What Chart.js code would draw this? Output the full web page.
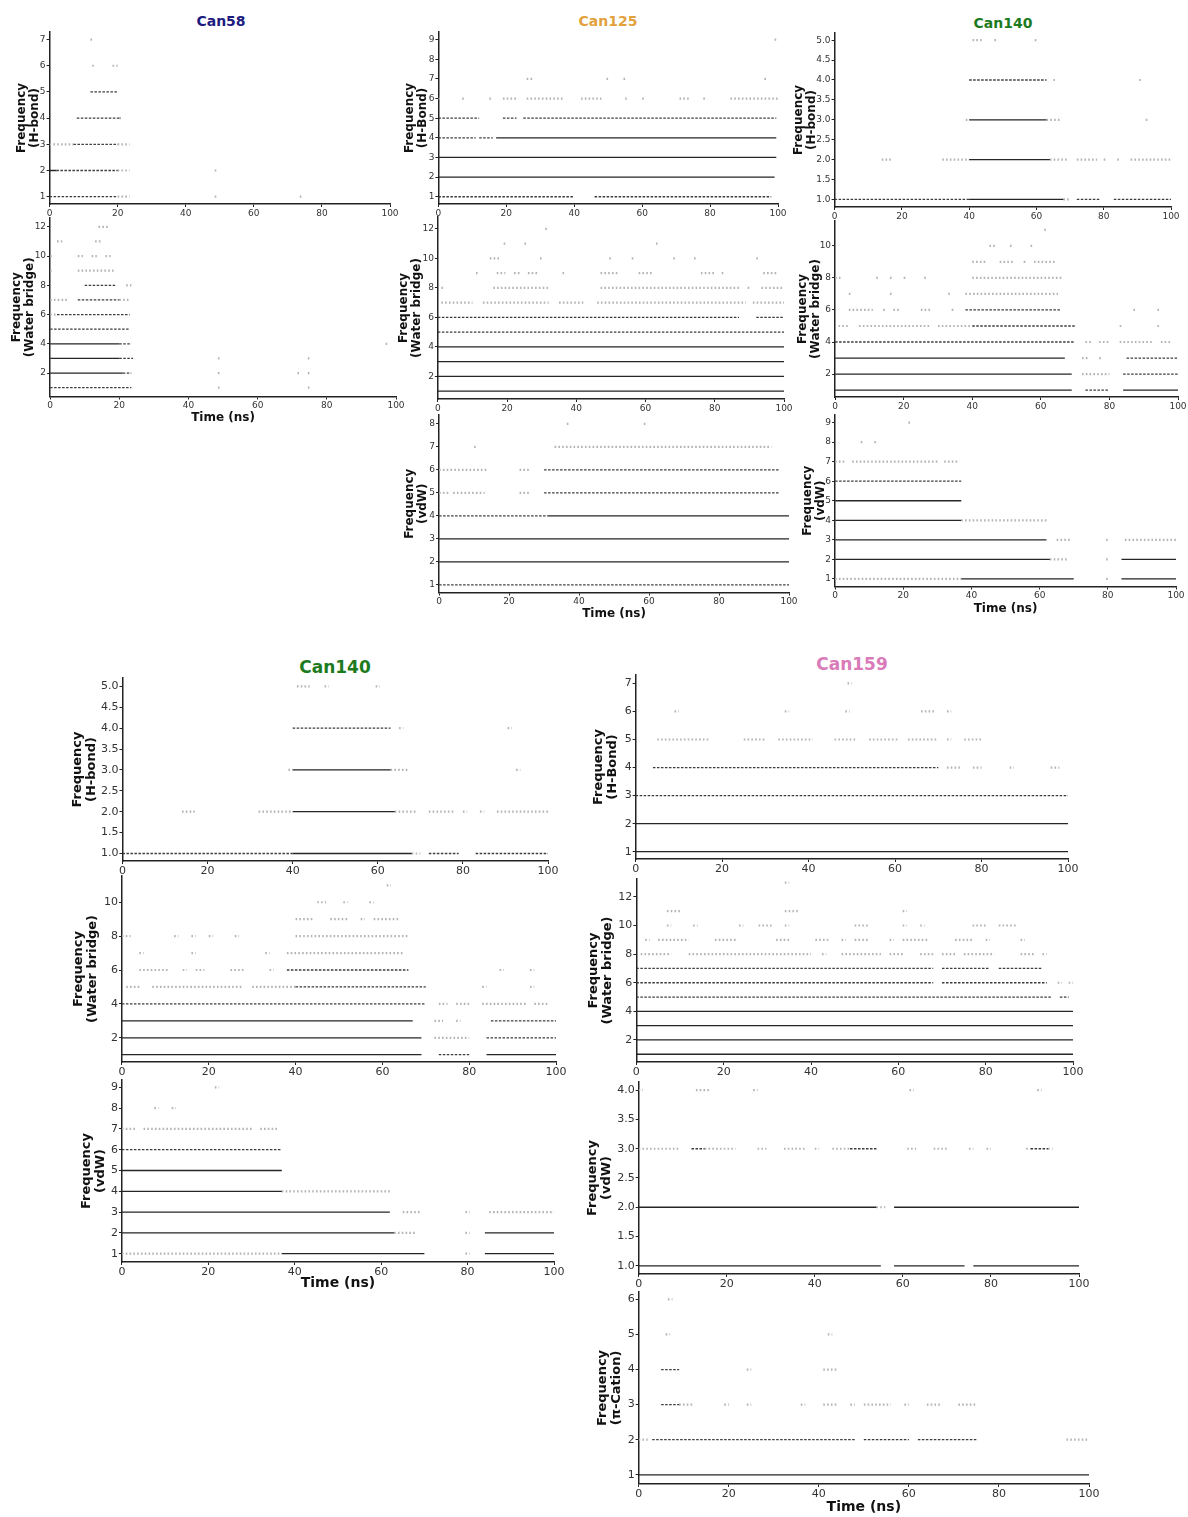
<!DOCTYPE html>
<html>
<head>
<meta charset="utf-8">
<script src="https://cdn.jsdelivr.net/npm/chart.js@4.4.1/dist/chart.umd.min.js"></script>
<style>
body { margin: 0; background: #fff; width: 1188px; height: 1517px; position: relative; overflow: hidden; font-family: 'DejaVu Sans', sans-serif; }
canvas { position: absolute; }
.ttl { position: absolute; font-weight: bold; transform: translateX(-50%); white-space: nowrap; line-height: 1; }
</style>
</head>
<body>
<div class="ttl" style="left:221px;top:14px;font-size:14px;color:#1c1c80">Can58</div>
<div class="ttl" style="left:608px;top:14px;font-size:14px;color:#e3a13c">Can125</div>
<div class="ttl" style="left:1003px;top:16px;font-size:14px;color:#1d7a1d">Can140</div>
<div class="ttl" style="left:335px;top:659px;font-size:17px;color:#1d7a1d">Can140</div>
<div class="ttl" style="left:852px;top:656px;font-size:17px;color:#d97bb8">Can159</div>
<script>
// tick labels
const timeTicks = [0, 20, 40, 60, 80, 100];
const ticks6 = [1, 2, 3, 4, 5, 6];
const ticks7 = [1, 2, 3, 4, 5, 6, 7];
const ticks8 = [1, 2, 3, 4, 5, 6, 7, 8];
const ticks9 = [1, 2, 3, 4, 5, 6, 7, 8, 9];
const ticksEven10 = [2, 4, 6, 8, 10];
const ticksEven12 = [2, 4, 6, 8, 10, 12];
const ticksHalf4 = [1, 1.5, 2, 2.5, 3, 3.5, 4];
const ticksHalf5 = [1, 1.5, 2, 2.5, 3, 3.5, 4, 4.5, 5];

// contacts: [frequency level, from ns, to ns], grouped by how dense the dots are
// Can58
const can58HbSolid = [[2, 0, 2]];
const can58HbDense = [[1, 0, 20], [2, 2, 20], [3, 7, 20], [4, 8, 20.5], [5, 12, 20]];
const can58HbSparse = [[1, 20, 23.5], [1, 48.5, 49.5], [1, 73.5, 74.5], [2, 20, 23.5], [2, 48.5, 49.5], [3, 0, 7], [3, 20, 23.5],
  [4, 20.5, 21.5], [6, 12.5, 13.5], [6, 18.5, 20], [7, 12, 13]];
const can58WbSolid = [[2, 0, 21], [3, 0, 20], [4, 0, 20]];
const can58WbDense = [[1, 0, 23.5], [2, 21, 23.5], [3, 20, 24], [4, 20, 23.5], [5, 0, 23], [6, 2, 23], [7, 8, 20], [8, 10, 19]];
const can58WbSparse = [[1, 48.5, 49.5], [1, 74.5, 75.5], [2, 48.5, 49.5], [2, 71.5, 72.5], [2, 74.5, 75.5], [3, 48.5, 49.5], [3, 74.5, 75.5],
  [4, 97, 98], [6, 0, 2], [7, 0, 5], [7, 20, 23], [8, 22, 23.5], [9, 0, 1], [9, 8, 19], [10, 0, 1], [10, 8, 9.5], [10, 12, 13.5],
  [10, 16, 17.5], [11, 2, 3.5], [11, 13, 15], [12, 14, 17]];

// Can125
const can125HbSolid = [[2, 0, 99], [3, 0, 99.5], [4, 17, 99.5]];
const can125HbDense = [[1, 0, 40], [1, 46, 98], [4, 0, 11], [4, 12, 16], [5, 0, 12], [5, 19, 23], [5, 25, 99.5]];
const can125HbSparse = [[6, 0, 1], [6, 7, 8], [6, 15, 16], [6, 19, 23], [6, 26, 37], [6, 42, 48], [6, 55, 56], [6, 60, 61], [6, 71, 74],
  [6, 78, 79], [6, 86, 100], [7, 26, 28], [7, 49.5, 50.5], [7, 54.5, 55.5], [7, 96, 97], [9, 99, 100]];
const can125WbSolid = [[1, 0, 100], [2, 0, 100], [3, 0, 100], [4, 0, 100]];
const can125WbDense = [[5, 0, 100], [6, 0, 87], [6, 92, 100]];
const can125WbSparse = [[7, 1, 10], [7, 13, 32], [7, 35, 42], [7, 46, 89], [7, 91, 100], [8, 1, 2], [8, 16, 32], [8, 47, 87],
  [8, 89.5, 90.5], [8, 93.5, 100], [9, 11, 12], [9, 17, 19.5], [9, 22, 24], [9, 26, 29], [9, 36, 37], [9, 47, 52], [9, 58, 62],
  [9, 76, 80], [9, 82, 83], [9, 94, 98], [10, 15, 18], [10, 29.5, 30.5], [10, 49.5, 50.5], [10, 56, 57], [10, 68, 69], [10, 74, 75],
  [10, 92, 93], [11, 19, 20], [11, 25, 26], [11, 63, 64], [12, 31, 32]];
const can125VdwSolid = [[2, 0, 100], [3, 0, 100], [4, 31, 100]];
const can125VdwDense = [[1, 0, 100], [4, 0, 31], [5, 30, 97], [6, 30, 97]];
const can125VdwSparse = [[5, 0, 3], [5, 4, 13], [5, 23, 26], [6, 0, 14], [6, 23, 26], [7, 10, 11], [7, 33, 95], [8, 36.5, 37.5], [8, 58.5, 59.5]];

// Can140
const can140HbSolid = [[1, 40, 68], [2, 40, 64], [3, 40, 63]];
const can140HbDense = [[1, 0, 40], [1, 72, 79], [1, 83, 100], [4, 40, 63]];
const can140HbSparse = [[1, 68, 70], [2, 14, 17], [2, 32, 40], [2, 64, 69], [2, 72, 78], [2, 80, 81], [2, 84, 85], [2, 88, 100],
  [3, 39, 40], [3, 63, 67], [3, 92.5, 93.5], [4, 65, 66], [4, 90.5, 91.5], [5, 41, 44], [5, 47.5, 48.5], [5, 59.5, 60.5]];
const can140WbSolid = [[1, 0, 69], [1, 84, 100], [2, 0, 69], [3, 0, 67]];
const can140WbDense = [[1, 73, 80], [2, 84, 100], [3, 85, 100], [4, 0, 70], [5, 40, 70], [6, 38, 66]];
const can140WbSparse = [[2, 72, 80], [3, 72, 74], [3, 77, 78], [4, 73, 75], [4, 77, 80], [4, 83, 93], [4, 95, 98], [5, 1, 4],
  [5, 7, 28], [5, 30, 40], [5, 83, 84], [5, 94, 95], [6, 4, 11], [6, 14, 15], [6, 17, 19], [6, 25, 28], [6, 34, 35], [6, 87, 88],
  [6, 94, 95], [7, 4, 5], [7, 16, 17], [7, 33, 34], [7, 38, 65], [8, 0, 2], [8, 12, 13], [8, 16, 17], [8, 20, 21], [8, 26, 27],
  [8, 40, 66], [9, 40, 44], [9, 48, 52], [9, 55, 56], [9, 58, 64], [10, 45, 47], [10, 51, 52], [10, 57, 58], [11, 61, 62]];
const can140VdwSolid = [[1, 37, 70], [1, 84, 100], [2, 0, 63], [2, 84, 100], [3, 0, 62], [4, 0, 37], [5, 0, 37]];
const can140VdwDense = [[6, 0, 37]];
const can140VdwSparse = [[1, 0, 37], [1, 79.5, 80.5], [2, 63, 68], [2, 79.5, 80.5], [3, 65, 69], [3, 79.5, 80.5], [3, 85, 100],
  [4, 37, 62], [7, 0, 3], [7, 5, 30], [7, 32, 36], [8, 7.5, 8.5], [8, 11.5, 12.5], [9, 21.5, 22.5]];

// Can159
const can159HbSolid = [[1, 0, 100], [2, 0, 100]];
const can159HbDense = [[3, 0, 100], [4, 4, 70]];
const can159HbSparse = [[4, 72, 75], [4, 78, 80], [4, 86.5, 87.5], [4, 96, 98], [5, 5, 17], [5, 25, 30], [5, 33, 41], [5, 46, 51],
  [5, 54, 61], [5, 63, 70], [5, 72, 73], [5, 76, 80], [6, 9, 10], [6, 34.5, 35.5], [6, 48.5, 49.5], [6, 66, 69], [6, 72, 73], [7, 49, 50]];
const can159WbSolid = [[1, 0, 100], [2, 0, 100], [3, 0, 100], [4, 0, 100]];
const can159WbDense = [[5, 0, 95], [5, 97, 99], [6, 0, 68], [6, 70, 94], [7, 0, 68], [7, 70, 81], [7, 83, 93]];
const can159WbSparse = [[6, 96.5, 97.5], [6, 99, 100], [8, 1, 8], [8, 12, 40], [8, 42.5, 43.5], [8, 47, 56], [8, 58, 61], [8, 65, 68],
  [8, 70, 73], [8, 75, 82], [8, 88, 91], [8, 93, 94], [9, 2, 3], [9, 5, 12], [9, 18, 23], [9, 32, 35], [9, 41, 44], [9, 47, 48],
  [9, 50, 53], [9, 58, 59], [9, 61, 67], [9, 73, 77], [9, 80, 81], [9, 88, 89], [10, 7, 8], [10, 13, 14], [10, 23.5, 24.5],
  [10, 28, 31], [10, 34, 35], [10, 50, 53], [10, 61, 62], [10, 65, 66], [10, 77, 80], [10, 83, 87], [11, 7, 10], [11, 34, 37],
  [11, 61, 62], [13, 34, 35]];
const can159VdwSolid = [[1, 0, 55], [1, 58, 74], [1, 76, 100], [2, 0, 54], [2, 58, 100]];
const can159VdwDense = [[3, 12, 15], [3, 48, 54], [3, 89, 93]];
const can159VdwSparse = [[2, 54, 56], [3, 0, 9], [3, 15, 22], [3, 27, 29], [3, 33, 38], [3, 40, 41], [3, 44, 48], [3, 61, 63],
  [3, 67, 70], [3, 75, 76], [3, 79, 80], [3, 88, 89], [3, 93, 94], [4, 0, 1], [4, 13, 16], [4, 26, 27], [4, 61.5, 62.5], [4, 90.5, 91.5]];
const can159PiSolid = [[1, 0, 100]];
const can159PiDense = [[2, 3, 48], [2, 50, 60], [2, 62, 75], [3, 5, 9], [4, 5, 9]];
const can159PiSparse = [[2, 0, 2], [2, 95, 100], [3, 9, 12], [3, 19, 20], [3, 24, 25], [3, 36, 37], [3, 41, 44], [3, 47, 48],
  [3, 50, 56], [3, 59, 60], [3, 64, 67], [3, 71, 75], [4, 24, 25], [4, 41, 44], [5, 6, 7], [5, 42, 43], [6, 6.5, 7.5]];

// line look for each density group
const looks = [
  { color: '#262626', width: 1.3, dash: [] },
  { color: '#3c3c3c', width: 1.3, dash: [2.5, 1.5] },
  { color: '#b4b4b4', width: 2.2, dash: [1.6, 2.2] }
];

// panel placement (pixels) - x0/x1 = time 0/100, yTop/yBot = axis top and x axis
const panels = [
  { x0: 50, x1: 390.7, yTop: 31.7, yBot: 204, min: 0.72, max: 7.29, ticks: ticks7, dec: 0, label: '(H-bond)', tx: 22, small: true,
    sets: [can58HbSolid, can58HbDense, can58HbSparse] },
  { x0: 50, x1: 396, yTop: 218, yBot: 396.7, min: 0.4, max: 12.6, ticks: ticksEven12, dec: 0, label: '(Water bridge)', tx: 16.5, small: true, timeY: 418,
    sets: [can58WbSolid, can58WbDense, can58WbSparse] },
  { x0: 438.3, x1: 778.3, yTop: 31.7, yBot: 204, min: 0.63, max: 9.39, ticks: ticks9, dec: 0, label: '(H-Bond)', tx: 409.5, small: true,
    sets: [can125HbSolid, can125HbDense, can125HbSparse] },
  { x0: 438.3, x1: 784, yTop: 216.7, yBot: 398.3, min: 0.47, max: 12.8, ticks: ticksEven12, dec: 0, label: '(Water bridge)', tx: 404, small: true,
    sets: [can125WbSolid, can125WbDense, can125WbSparse] },
  { x0: 439, x1: 789.3, yTop: 415, yBot: 592.7, min: 0.67, max: 8.39, ticks: ticks8, dec: 0, label: '(vdW)', tx: 409.5, small: true, timeY: 614,
    sets: [can125VdwSolid, can125VdwDense, can125VdwSparse] },
  { x0: 835, x1: 1171.7, yTop: 33.3, yBot: 207.7, min: 0.81, max: 5.18, ticks: ticksHalf5, dec: 1, label: '(H-bond)', tx: 799, small: true,
    sets: [can140HbSolid, can140HbDense, can140HbSparse] },
  { x0: 835, x1: 1177.7, yTop: 221, yBot: 397.3, min: 0.57, max: 11.55, ticks: ticksEven10, dec: 0, label: '(Water bridge)', tx: 802.5, small: true,
    sets: [can140WbSolid, can140WbDense, can140WbSparse] },
  { x0: 835, x1: 1175.7, yTop: 415, yBot: 586.7, min: 0.61, max: 9.39, ticks: ticks9, dec: 0, label: '(vdW)', tx: 807.5, small: true, timeY: 609,
    sets: [can140VdwSolid, can140VdwDense, can140VdwSparse] },
  { x0: 122.3, x1: 548.3, yTop: 678.3, yBot: 861.7, min: 0.82, max: 5.2, ticks: ticksHalf5, dec: 1, label: '(H-bond)', tx: 77, small: false,
    sets: [can140HbSolid, can140HbDense, can140HbSparse] },
  { x0: 122.3, x1: 556.7, yTop: 876, yBot: 1061.9, min: 0.57, max: 11.55, ticks: ticksEven10, dec: 0, label: '(Water bridge)', tx: 78.5, small: false,
    sets: [can140WbSolid, can140WbDense, can140WbSparse] },
  { x0: 122.3, x1: 554.3, yTop: 1080, yBot: 1261.7, min: 0.6, max: 9.35, ticks: ticks9, dec: 0, label: '(vdW)', tx: 86.5, small: false, timeY: 1283.3,
    sets: [can140VdwSolid, can140VdwDense, can140VdwSparse] },
  { x0: 636, x1: 1068.7, yTop: 675, yBot: 859.3, min: 0.74, max: 7.3, ticks: ticks7, dec: 0, label: '(H-Bond)', tx: 598.5, small: false,
    sets: [can159HbSolid, can159HbDense, can159HbSparse] },
  { x0: 636.7, x1: 1073.3, yTop: 879, yBot: 1062, min: 0.46, max: 13.25, ticks: ticksEven12, dec: 0, label: '(Water bridge)', tx: 593.5, small: false,
    sets: [can159WbSolid, can159WbDense, can159WbSparse] },
  { x0: 639, x1: 1079, yTop: 1081.7, yBot: 1273.3, min: 0.86, max: 4.14, ticks: ticksHalf4, dec: 1, label: '(vdW)', tx: 592.5, small: false,
    sets: [can159VdwSolid, can159VdwDense, can159VdwSparse] },
  { x0: 639, x1: 1089, yTop: 1291.7, yBot: 1484, min: 0.74, max: 6.21, ticks: ticks6, dec: 0, label: '(π-Cation)', tx: 602.5, small: false, timeY: 1507.7,
    sets: [can159PiSolid, can159PiDense, can159PiSparse] }
];

// segments -> points, NaN breaks the line between segments
function toPoints(list) {
  const pts = [];
  list.forEach(([lv, a, b]) => {
    pts.push({ x: a, y: lv }, { x: b, y: lv }, { x: b, y: NaN });
  });
  return pts;
}

function drawPanel(p) {
  const tickSize = p.small ? 9 : 11;
  const titleSize = p.small ? 12 : 13;
  const timeSize = p.small ? 12 : 14;
  const lh = titleSize * 1.1;
  const T = 8, R = 14;
  const left = p.tx - lh / 2 - 2;
  const W = p.x0 - left;
  let H = 24;
  if (p.timeY) H = p.timeY - p.yBot + timeSize * 1.2 / 2;
  const cw = Math.round(W + (p.x1 - p.x0) + R);
  const chh = Math.round(T + (p.yBot - p.yTop) + H);

  const cv = document.createElement('canvas');
  cv.width = cw;
  cv.height = chh;
  cv.style.left = (p.x0 - W) + 'px';
  cv.style.top = (p.yTop - T) + 'px';
  document.body.appendChild(cv);

  new Chart(cv.getContext('2d'), {
    type: 'scatter',
    data: {
      datasets: p.sets.map((s, i) => ({
        data: toPoints(s),
        showLine: true,
        spanGaps: false,
        pointRadius: 0,
        borderColor: looks[i].color,
        borderWidth: looks[i].width,
        borderDash: looks[i].dash,
        borderCapStyle: 'butt',
        tension: 0
      }))
    },
    options: {
      responsive: false,
      animation: false,
      devicePixelRatio: 1,
      layout: { padding: { top: T, right: R, left: 0, bottom: 0 } },
      plugins: { legend: { display: false }, tooltip: { enabled: false } },
      scales: {
        x: {
          type: 'linear', min: 0, max: 100,
          afterBuildTicks: s => { s.ticks = timeTicks.map(v => ({ value: v })); },
          afterFit: s => { s.height = H; },
          ticks: { autoSkip: false, maxRotation: 0, color: '#333', padding: 1, font: { family: 'DejaVu Sans', size: tickSize } },
          grid: { drawOnChartArea: false, drawTicks: true, tickLength: 3, color: '#222', lineWidth: 1 },
          border: { display: true, color: '#222', width: 1.5 },
          title: {
            display: !!p.timeY, text: 'Time (ns)', color: '#111',
            font: { family: 'DejaVu Sans', size: timeSize, weight: 'bold', lineHeight: 1.2 },
            padding: { top: 0, bottom: 0 }
          }
        },
        y: {
          type: 'linear', min: p.min, max: p.max,
          afterBuildTicks: s => { s.ticks = p.ticks.map(v => ({ value: v })); },
          afterFit: s => { s.width = W; },
          ticks: {
            autoSkip: false, color: '#333', padding: 1,
            font: { family: 'DejaVu Sans', size: tickSize },
            callback: v => Number(v).toFixed(p.dec)
          },
          grid: { drawOnChartArea: false, drawTicks: true, tickLength: 3, color: '#222', lineWidth: 1 },
          border: { display: true, color: '#222', width: 1.5 },
          title: {
            display: true, text: ['Frequency', p.label], color: '#111',
            font: { family: 'DejaVu Sans', size: titleSize, weight: 'bold', lineHeight: 1.1 },
            padding: { top: 2, bottom: 0 }
          }
        }
      }
    }
  });
}

panels.forEach(drawPanel);
</script>
</body>
</html>
